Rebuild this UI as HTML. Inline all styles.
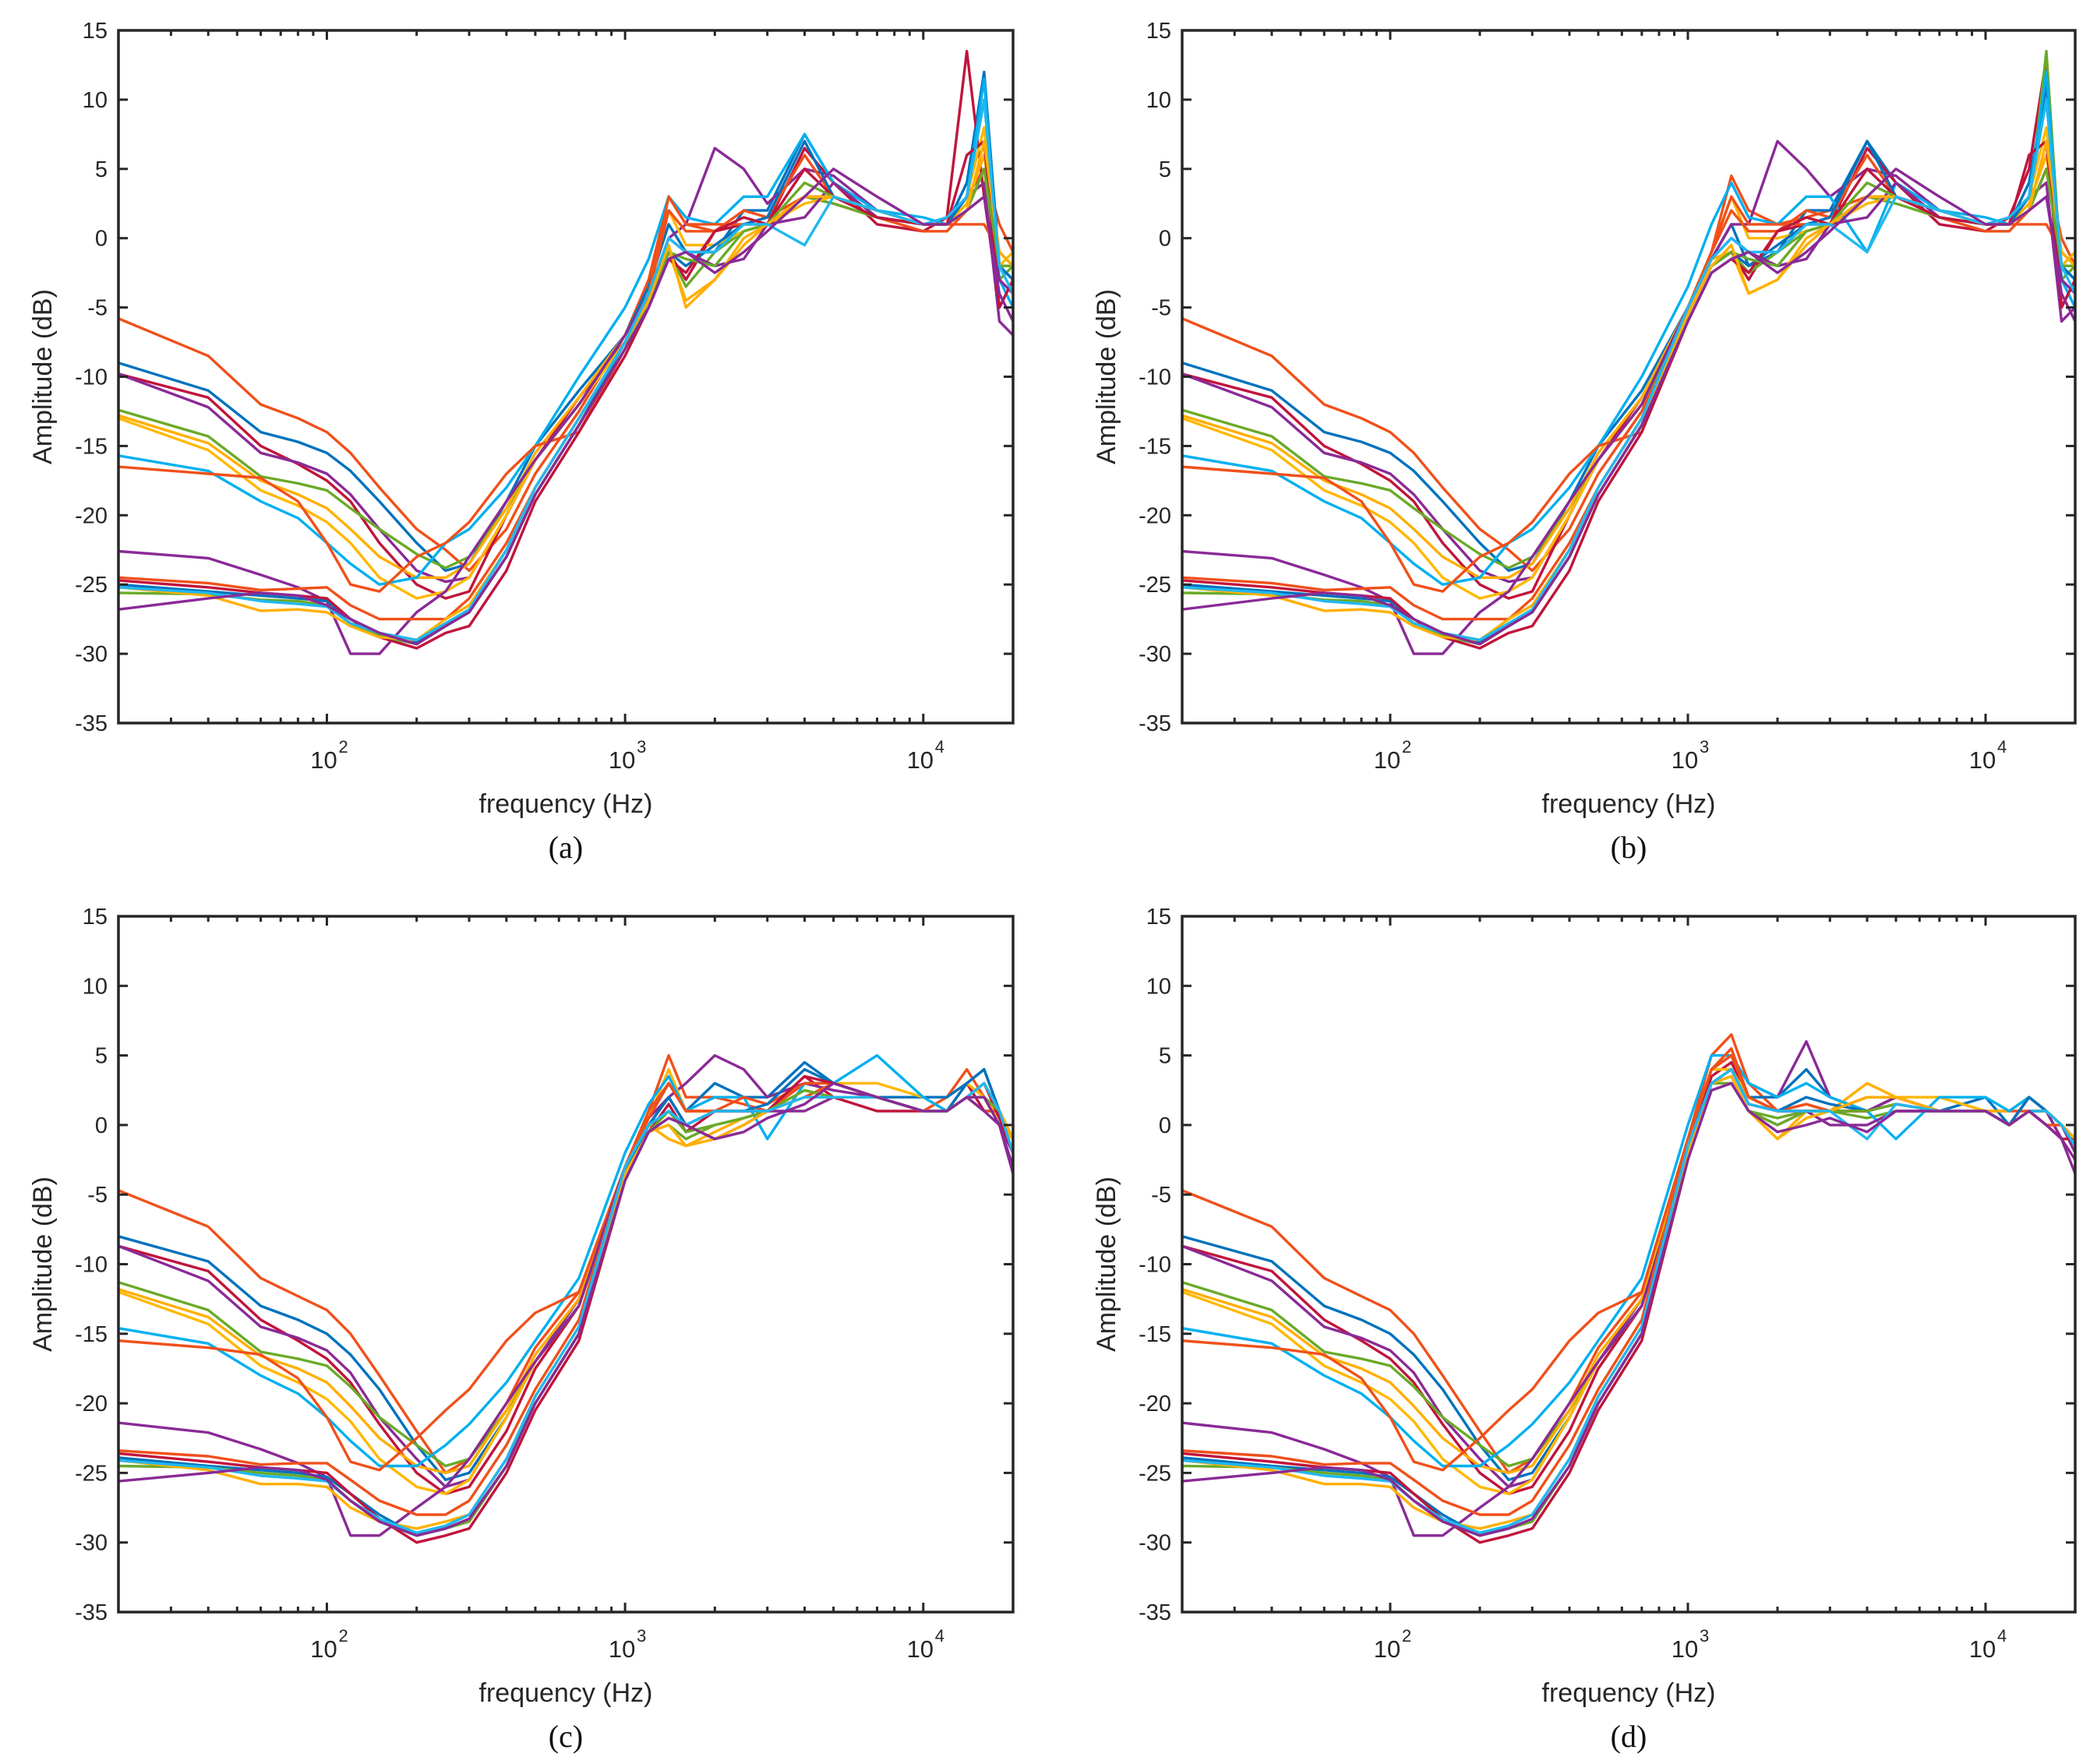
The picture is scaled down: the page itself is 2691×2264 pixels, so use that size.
<!DOCTYPE html>
<html><head><meta charset="utf-8"><style>
html,body{margin:0;padding:0;background:#fff;}
svg{display:block;}
</style></head><body>
<svg id="fig" width="2691" height="2264" viewBox="0 0 2691 2264" xmlns="http://www.w3.org/2000/svg" font-family="Liberation Sans, sans-serif"></svg>
<script>
const freqsLow = [20,40,60,80,100,120,150,200,250,300,400,500,700];
const freqsHigh = [1000,1200,1400,1600,2000,2500,3000,4000,5000,7000,10000,12000,14000,16000,18000,20000];
const yTicks = [15,10,5,0,-5,-10,-15,-20,-25,-30,-35];
const xTickDecades = [2,3,4];
const colors = ["#F0501A","#0072BD","#C0143C","#8A2A96","#6AAA28","#FFAE00","#FFB800","#00B0F0","#F0501A","#8A2A96","#F0501A","#0072BD","#C0143C","#6AAA28","#FFB000","#20B8F0","#8A2A96"];

const lowAB = [
[-5.8,-8.5,-12,-13,-14,-15.5,-18,-21,-22.5,-24,-21,-17,-12.5],
[-9,-11,-14,-14.7,-15.5,-16.8,-19,-22,-24,-23.5,-19,-15,-11],
[-9.8,-11.5,-15,-16.3,-17.5,-19,-22,-25,-26,-25.5,-20,-16,-11.5],
[-9.8,-12.2,-15.5,-16.2,-17,-18.5,-21,-24,-24.8,-24.5,-20,-16,-12],
[-12.4,-14.3,-17.2,-17.7,-18.2,-19.5,-21,-22.8,-23.8,-23,-19.5,-16,-12],
[-12.8,-14.8,-17.5,-18.5,-19.5,-21,-23,-24.5,-24.5,-23.5,-19.5,-15.5,-11.5],
[-13,-15.3,-18.2,-19.3,-20.5,-22,-24.5,-26,-25.5,-24.5,-20,-16,-12],
[-15.7,-16.8,-19,-20.2,-22,-23.5,-25,-24.5,-22,-21,-18,-15,-10],
[-16.5,-17,-17.3,-19,-22,-25,-25.5,-23,-22,-20.5,-17,-15,-14],
[-22.6,-23.1,-24.3,-25.2,-26.2,-30,-30,-27,-25.5,-23,-19,-16,-12],
[-24.5,-24.9,-25.4,-25.3,-25.2,-26.5,-27.5,-27.5,-27.5,-26,-22,-18,-13],
[-25,-25.5,-25.8,-26,-26.2,-27.5,-28.5,-29.2,-28,-27,-23,-18.5,-13.5],
[-24.7,-25.2,-25.6,-25.8,-26,-27.5,-28.8,-29.6,-28.5,-28,-24,-19,-14],
[-25.6,-25.7,-26.1,-26.2,-26.5,-27.8,-28.7,-29.3,-28,-27,-23,-18.5,-13.5],
[-25.2,-25.8,-26.9,-26.8,-27,-28,-28.8,-29,-27.5,-26.5,-22.5,-18,-13],
[-25.2,-25.6,-26.2,-26.4,-26.6,-27.8,-28.5,-29,-27.8,-26.8,-22.5,-18,-13],
[-26.8,-26,-25.6,-25.8,-26.5,-27.5,-28.5,-29.3,-28,-27,-23,-18.5,-13.5]
];
const lowCD = [
[-4.7,-7.3,-11,-12.3,-13.3,-15,-18,-22,-25,-24,-20,-16,-12],
[-8,-9.8,-13,-14,-15,-16.5,-19,-23,-25.5,-25,-21,-17,-12.5],
[-8.7,-10.5,-14,-15.5,-16.8,-18.5,-21.5,-25,-26.5,-26,-22,-17.5,-13],
[-8.7,-11.2,-14.5,-15.3,-16.2,-17.8,-21,-24,-26,-25.5,-21,-17,-12.5],
[-11.3,-13.3,-16.3,-16.8,-17.3,-18.8,-21,-23,-24.5,-24,-20.5,-17,-13],
[-11.8,-13.8,-16.6,-17.5,-18.5,-20.2,-22.5,-24.5,-25,-24.5,-20.5,-16.5,-12.5],
[-12,-14.3,-17.3,-18.5,-19.7,-21.3,-24,-26,-26.5,-25.5,-21,-17,-13],
[-14.6,-15.7,-18,-19.3,-21,-22.7,-24.5,-24.5,-23,-21.5,-18.5,-15.5,-11],
[-15.5,-16,-16.5,-18.2,-21,-24.2,-24.8,-22.5,-20.5,-19,-15.5,-13.5,-12],
[-21.4,-22.1,-23.3,-24.3,-25.3,-29.5,-29.5,-27.5,-26,-24,-20,-17,-13],
[-23.4,-23.8,-24.4,-24.3,-24.3,-25.5,-27,-28,-28,-27,-23,-19,-14],
[-23.9,-24.5,-24.8,-25,-25.3,-26.5,-28,-29.5,-28.8,-28,-24,-20,-15],
[-23.6,-24.2,-24.6,-24.8,-25,-26.5,-28.3,-30,-29.5,-29,-25,-20.5,-15.5],
[-24.5,-24.6,-25,-25.2,-25.5,-27,-28.5,-29.5,-29,-28.5,-24.5,-20,-15],
[-24.1,-24.8,-25.8,-25.8,-26,-27.5,-28.5,-29,-28.5,-28,-24,-19.5,-14.5],
[-24.1,-24.6,-25.2,-25.4,-25.6,-27,-28.3,-29.3,-28.8,-28,-24,-19.5,-14.5],
[-25.6,-25,-24.6,-24.8,-25.5,-27,-28.5,-29.5,-29,-28.3,-24.5,-20,-15]
];
const highA = [
[-7,-3,3,1,0.5,1,1.5,3,2.5,1.5,1,1,3,5,1,-1],
[-7,-3.5,1,-1,-1,2,2,7.5,4,2,1,1,4,12,-2,-3],
[-7.5,-4,-1,-3,0.5,1,1,6.5,4,1,0.5,1.5,13.5,3,-5,-3],
[-7.5,-4,0,1,6.5,5,2.5,5,4.5,2,1,1,3,4,-6,-7],
[-7.5,-4.5,-1,-3.5,-1,0.5,1,3,2.5,1.5,1,1,2,5,-3,-2],
[-7,-4,-1,-4.5,-3,-0.5,1,3,3,2,1,1,2.5,6,-1,-2],
[-7.5,-4,2,-0.5,-0.5,0.5,1,2.5,3,2,1,1,3,8,-2,-1],
[-5,-1.5,3,1.5,1,3,3,7.5,4,2,1.5,1,3,11.5,-3,-5],
[-8,-4,3,1,1,1,1,3,3,2,1,1,1,1,-1,-2],
[-7,-4,0,-1,-2,-1.5,1,1.5,4,1.5,1,1,2,3,-3,-4],
[-7.5,-4,2,0.5,0.5,2,1.5,6,3,1.5,0.5,0.5,2,5,-2,-2],
[-7.5,-4.5,-1,-2,-0.5,1,1.5,7,3,1.5,1,1,3,10,-2,-3],
[-8.5,-5,-1.5,-2.5,0.5,1.5,1,5,3,1.5,1,1,6,7,-5,-3],
[-8,-4.5,-1,-1.5,-2,0.5,1,4,3,2,1,1,2,5,-2,-2],
[-7.5,-4.5,-0.5,-5,-3,0,1,3,3,2,1,1,2,7,-1,-2],
[-7.5,-4,0,-1,-1,1,1,-0.5,3,2,1,1.5,3,10,-2,-4],
[-8,-5,-1.5,-1,-2.5,-1,0.5,3,5,3,1,1,2,3,-4,-6]
];
const highB = [
[-5,-1,4.5,2,1,1.5,2,3,3,1.5,1,1,2,5,0,-2],
[-5,-1.5,1,-2,-1,2,2,7,4,2,1,1,4,11,-2,-3],
[-5.5,-2,-1,-3,0.5,1,1,6.5,4,1,0.5,1.5,5,13,-5,-3],
[-5,-1.5,1,1,7,5,3,5,4.5,2,1,1,3,4,-6,-5],
[-5.5,-2,-1,-2.5,-1,0.5,1,3,2.5,1.5,1,1,2,13.5,-3,-2],
[-5,-1.5,-1,-4,-3,-0.5,1,3,3,2,1,1,2.5,6,-1,-2],
[-5,-1,3,0,0,0.5,1,2.5,3,2,1,1,3,8,-2,-1],
[-3.5,1,4,1.5,1,3,3,-1,4,2,1.5,1,3,12,-3,-5],
[-5,-1,3,1,1,1,1,3,3,2,1,1,1,1,-1,-2],
[-5,-1.5,0,-1,-2,-1.5,1,1.5,4,1.5,1,1,2,3,-3,-4],
[-5,-1,2,0.5,0.5,2,1.5,6,3,1.5,0.5,0.5,2,5,-2,-2],
[-5.5,-2,-1,-2,-0.5,1,1.5,7,3,1.5,1,1,3,10,-2,-3],
[-6,-2.5,-1.5,-2.5,0.5,1.5,1,5,3,1.5,1,1,6,7,-5,-3],
[-5.5,-2,-1,-1.5,-2,0.5,1,4,3,2,1,1,2,5,-2,-2],
[-5.5,-2,-0.5,-4,-3,0,1,3,3,2,1,1,2,7,-1,-2],
[-5,-1.5,0,-1,-1,1,1,-1,3,2,1,1.5,3,10,-2,-4],
[-6,-2.5,-1.5,-1,-2.5,-1,0.5,3,5,3,1,1,2,3,-4,-6]
];
const highC = [
[-3,1,5,2,2,1.5,1,3,3,2,1,2,4,2,1,-2],
[-3,0.5,3,1,3,2,2,4.5,3,2,2,2,3,4,1,-1],
[-3.5,0,2,0,1,1,1,3.5,2,1,1,1,3,1,1,-2],
[-3,0.5,2,3,5,4,2,3,2.5,2,1,1,2,2,0,-3.5],
[-3.5,-0.5,0,-1,0,0.5,1,2,2,2,1,1,2,1,1,-1],
[-3,0,-1,-1.5,-0.5,0.5,1,2.5,2,2,1,1,2,2,0.5,-1],
[-3,0.5,4,1,1,1,1,2,3,3,2,1,3,2,0,-1],
[-2,1.5,3.5,1,2,2,-1,3,3,5,2,1,2,3,1,-1],
[-3,1,3,1,1,1,1,2,3,2,1,1,2,1,1,-2],
[-3,0,1,0,-1,0,1,1,2,2,1,1,2,1,0,-2],
[-3,0.5,3,1,1,2,1.5,3,3,2,1,1,2,2,1,-1],
[-3.5,0,2,0,1,1,1.5,4,3,2,1,1,3,4,1,-1],
[-4,-0.5,1.5,-0.5,1,1,1,3.5,3,2,1,1,2,3,0.5,-2],
[-3.5,-0.5,1,-0.5,0,0.5,1,2.5,2,2,1,1,2,2,1,-1],
[-3.5,-0.5,0,-1.5,-1,0,1,2,2,2,1,1,2,3,1,-1],
[-3,0,1,0,1,1,1,2,2,2,1,1,2,3,1,-2],
[-4,-0.5,0.5,0,-1,-0.5,0.5,1.5,3,2,1,1,2,2,0,-3]
];
const highD = [
[-1,5,6.5,3,1,1.5,1,2,2,1,1,1,1,0,-1,-1],
[-1.5,4,5,2,2,4,2,1,2,1,2,0,2,1,0,-1],
[-2,3.5,4.5,2,1,1,1,1,2,1,1,0,2,1,-1,-1],
[-1,4,5,3,2,6,2,1,2,1,1,0,1,1,-1,-3.5],
[-2,3,3,1,0.5,1,1,0.5,1,1,1,0,1,1,0,-1],
[-1.5,3,3.5,1,-1,1,1,3,2,2,1,1,2,1,0,-1],
[-1,4,4,2,1,1,1,2,2,2,1,0,1,1,0,-1],
[0,5,5,3,2,3,2,1,-1,2,2,1,2,1,0,-1],
[-1,4,5.5,2,1,1,1,2,2,1,1,0,1,0,-1,-1],
[-2,2.5,3,1,0,1,0,0,1,1,1,0,1,1,0,-2],
[-1,4,5,2,1,1.5,1,2,2,1,1,0,1,0,0,-1],
[-2,3,4,1.5,1,2,1.5,1,1.5,1,1,0,2,1,0,-1],
[-2.5,3,4,1.5,1,1,1,1,1.5,1,1,0,1,0,-1,-1],
[-2,3,3.5,1,0,1,1,1,1.5,1,1,0,1,1,0,-1],
[-2,3,3.5,1,-1,0.5,1,2,2,1,1,0,1,1,0,-1],
[-1.5,3,4,1.5,1,1,1,-1,1.5,1,1,0,1,1,0,-1.5],
[-2.5,2.5,3,1,-0.5,0,0.5,-0.5,1,1,1,0,1,0,-1,-2.5]
];

const NS="http://www.w3.org/2000/svg";
const svg=document.getElementById('fig');
function mk(tag,attrs,parent){const e=document.createElementNS(NS,tag);for(const k in attrs)e.setAttribute(k,attrs[k]);(parent||svg).appendChild(e);return e;}

const panels=[
 {id:'a',x:152,y:39,w:1148,h:889,low:lowAB,high:highA},
 {id:'b',x:1517,y:39,w:1146,h:889,low:lowAB,high:highB},
 {id:'c',x:152,y:1176,w:1148,h:893,low:lowCD,high:highC},
 {id:'d',x:1517,y:1176,w:1146,h:893,low:lowCD,high:highD}
];
const fmin=Math.log10(20), fmax=Math.log10(20000);

panels.forEach(p=>{
 const g=mk('g',{});
 
 
 const xs=f=>p.x+(Math.log10(f)-fmin)/(fmax-fmin)*p.w;
 const ys=v=>p.y+(15-v)/50*p.h;
 const clip=mk('clipPath',{id:'clip'+p.id},g);
 mk('rect',{x:p.x,y:p.y,width:p.w,height:p.h},clip);
 const lg=mk('g',{'clip-path':'url(#clip'+p.id+')'},g);
 
 
 const freqs=freqsLow.concat(freqsHigh);
 p.low.forEach((row,i)=>{
  const vals=row.concat(p.high[i]);
  const d=vals.map((v,j)=>(j?'L':'M')+xs(freqs[j]).toFixed(1)+','+ys(v).toFixed(1)).join('');
  const path=mk('path',{d:d,fill:'none',stroke:colors[i],'stroke-width':3.4,'stroke-linejoin':'round'},lg);
  
  
 });
 const box=mk('rect',{x:p.x,y:p.y,width:p.w,height:p.h,fill:'none',stroke:'#262626','stroke-width':3.5},g);
 
 
 yTicks.forEach(t=>{
  const y=ys(t);
  mk('line',{x1:p.x,x2:p.x+12,y1:y,y2:y,stroke:'#262626','stroke-width':3},g);
  mk('line',{x1:p.x+p.w,x2:p.x+p.w-12,y1:y,y2:y,stroke:'#262626','stroke-width':3},g);
  const tx=mk('text',{x:p.x-14,y:y+10,'text-anchor':'end','font-size':29,fill:'#262626'},g);
  tx.textContent=String(t);
  
  
 });
 for(let dec=1;dec<=4;dec++){
  for(let m=1;m<=9;m++){
   const f=m*Math.pow(10,dec);
   if(f<20||f>20000)continue;
   const x=xs(f); const L=(m===1)?12:7;
   mk('line',{x1:x,x2:x,y1:p.y+p.h,y2:p.y+p.h-L,stroke:'#262626','stroke-width':3},g);
   mk('line',{x1:x,x2:x,y1:p.y,y2:p.y+L,stroke:'#262626','stroke-width':3},g);
  }
 }
 xTickDecades.forEach(dd=>{
  const x=xs(Math.pow(10,dd));
  const t=mk('text',{x:x-4,y:p.y+p.h+58,'text-anchor':'middle','font-size':31,fill:'#262626'},g);
  t.textContent='10';
  
  
  const s=mk('text',{x:x+15,y:p.y+p.h+38,'font-size':22,fill:'#262626'},g);
  s.textContent=String(dd);
 });
 const cx=p.x+p.w/2;
 const xl=mk('text',{x:cx,y:p.y+p.h+115,'text-anchor':'middle','font-size':34,fill:'#262626'},g);
 xl.textContent='frequency (Hz)';
 
 
 const yl=mk('text',{x:0,y:0,'text-anchor':'middle','font-size':34,fill:'#262626',transform:'translate('+(p.x-86)+','+(p.y+p.h/2)+') rotate(-90)'},g);
 yl.textContent='Amplitude (dB)';
 
 
 const cap=mk('text',{x:cx,y:p.y+p.h+173,'text-anchor':'middle','font-size':40,'font-family':'Liberation Serif, serif',fill:'#111'},g);
 cap.textContent='('+p.id+')';
 
 
});
</script>
</body></html>
